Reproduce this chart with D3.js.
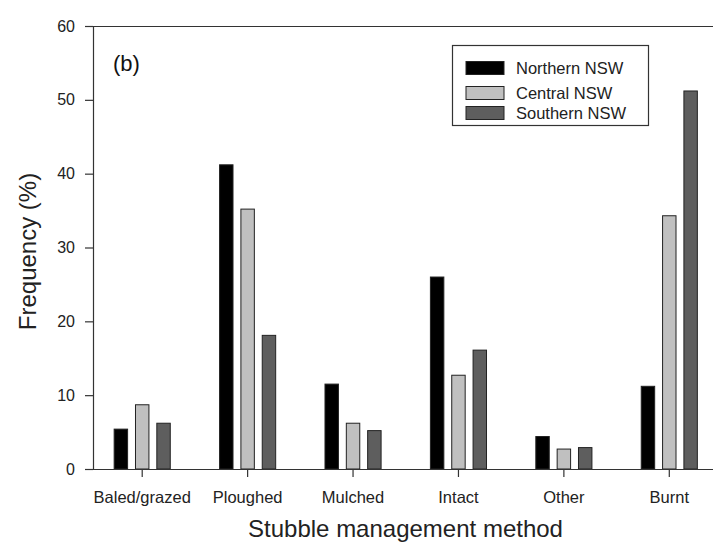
<!DOCTYPE html>
<html>
<head>
<meta charset="utf-8">
<script src="https://cdn.jsdelivr.net/npm/d3@7"></script>
<style>
  body { margin: 0; background: #fff; }
  svg { display: block; font-family: "Liberation Sans", Arial, sans-serif; }
</style>
</head>
<body>
<svg id="chart" width="713" height="543"></svg>
<script>
const categories = ["Baled/grazed", "Ploughed", "Mulched", "Intact", "Other", "Burnt"];
const seriesNames = ["Northern NSW", "Central NSW", "Southern NSW"];
const northern = [5.4, 41.2, 11.5, 26.0, 4.4, 11.2];
const central  = [8.7, 35.2, 6.2, 12.7, 2.7, 34.3];
const southern = [6.2, 18.1, 5.2, 16.1, 2.9, 51.2];
const seriesColors = ["#000000", "#c0c0c0", "#5e5e5e"];
const yTicks = [0, 10, 20, 30, 40, 50, 60];

(function () {
const seriesValues = [northern, central, southern];
const svg = d3.select("#chart");

const mLeft = 93, mRight = 713, mTop = 26, mBottom = 469;

const x = d3.scaleBand().domain(categories).range([89.5, 722]).padding(0);
const bw = x.bandwidth();
const xi = d3.scaleBand().domain(seriesNames)
  .range([bw / 2 - 32, bw / 2 + 32]).paddingInner(0.37).paddingOuter(0.185);
const y = d3.scaleLinear().domain([0, 60]).range([mBottom, mTop]);

const axisColor = "#333";

// bars
const groups = svg.append("g").selectAll("g")
  .data(categories).join("g")
  .attr("transform", d => `translate(${x(d)},0)`);
groups.selectAll("rect")
  .data((c, ci) => seriesNames.map((s, si) => ({ s, si, v: seriesValues[si][ci] })))
  .join("rect")
  .attr("x", d => xi(d.s))
  .attr("width", xi.bandwidth())
  .attr("y", d => y(d.v))
  .attr("height", d => y(0) - y(d.v))
  .attr("fill", d => seriesColors[d.si])
  .attr("stroke", "#222")
  .attr("stroke-width", 1);

// frame: top line
svg.append("line").attr("x1", mLeft).attr("x2", mRight).attr("y1", mTop + 0.5).attr("y2", mTop + 0.5)
  .attr("stroke", axisColor).attr("stroke-width", 1.2);

// y axis
const yAxis = svg.append("g").attr("transform", `translate(${mLeft},0)`)
  .call(d3.axisLeft(y).tickValues(yTicks).tickSize(8).tickPadding(10).tickFormat(d3.format("d")));
yAxis.select(".domain").attr("stroke", axisColor).attr("stroke-width", 1.2);
yAxis.selectAll(".tick line").attr("stroke", axisColor).attr("stroke-width", 1.2);
yAxis.selectAll(".tick text").attr("font-size", 16).attr("fill", "#222")
  .attr("font-family", "Liberation Sans, Arial, sans-serif");

// x axis
const xAxis = svg.append("g").attr("transform", `translate(0,${mBottom})`)
  .call(d3.axisBottom(x).tickSize(8).tickPadding(14));
xAxis.select(".domain").remove();
xAxis.append("line").attr("x1", mLeft).attr("x2", mRight).attr("y1", 0.5).attr("y2", 0.5)
  .attr("stroke", axisColor).attr("stroke-width", 1.2);
xAxis.selectAll(".tick line").attr("stroke", axisColor).attr("stroke-width", 1.2);
xAxis.selectAll(".tick text").attr("font-size", 16.5).attr("fill", "#222")
  .attr("font-family", "Liberation Sans, Arial, sans-serif");

// axis titles
svg.append("text")
  .attr("x", (mLeft + 722) / 2 - 2).attr("y", 537)
  .attr("text-anchor", "middle").attr("font-size", 24).attr("fill", "#222")
  .text("Stubble management method");
svg.append("text")
  .attr("transform", `translate(36,${(mTop + mBottom) / 2 + 4}) rotate(-90)`)
  .attr("text-anchor", "middle").attr("font-size", 24).attr("fill", "#222")
  .text("Frequency (%)");

// panel label
svg.append("text").attr("x", 113).attr("y", 71)
  .attr("font-size", 22).attr("fill", "#111").text("(b)");

// legend
const lg = svg.append("g");
lg.append("rect").attr("x", 452.5).attr("y", 45.5).attr("width", 196).attr("height", 80)
  .attr("fill", "#fff").attr("stroke", axisColor).attr("stroke-width", 1.2);
const li = lg.selectAll("g.item").data(seriesNames).join("g").attr("class", "item")
  .attr("transform", (d, i) => `translate(0,${[61.5, 86.5, 106.5][i]})`);
li.append("rect").attr("x", 466).attr("y", 0).attr("width", 38).attr("height", 13)
  .attr("fill", (d, i) => seriesColors[i]).attr("stroke", "#222").attr("stroke-width", 1);
li.append("text").attr("x", 516).attr("y", 12).attr("font-size", 16.5).attr("fill", "#222")
  .text(d => d);
})();
</script>
</body>
</html>
